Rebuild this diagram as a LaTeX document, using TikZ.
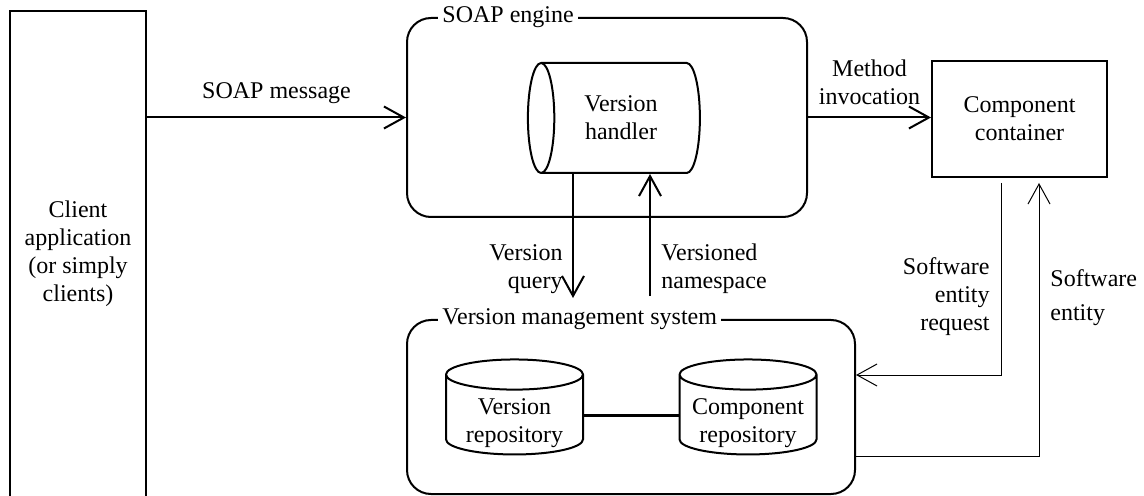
\documentclass[tikz,border=0pt]{standalone}
\usepackage{fontspec}
\setmainfont{Liberation Serif}
\usetikzlibrary{shapes.geometric,arrows.meta,positioning}

% text boxes of fixed size, so the cylinder ends come out right
\newcommand{\standtext}[1]{\makebox[68.5pt]{\raisebox{-7pt}[10pt][10pt]{\begin{tabular}{@{}c@{}}#1\end{tabular}}}}
\newcommand{\lietext}[1]{\parbox[c][55pt][c]{60pt}{\centering #1}}

\begin{document}
\begin{tikzpicture}[x=0.5pt,y=-0.5pt,
    font=\fontsize{12}{14}\selectfont,
    box/.style={draw, line width=1pt, align=center, inner sep=0pt},
    frame/.style={draw, line width=1pt, rounded corners=12pt, inner sep=0pt},
    frametitle/.style={fill=white, inner sep=2pt, anchor=west},
    store/.style={draw, line width=1pt, cylinder, inner sep=0pt},
    arr/.style={line width=1pt, -{Straight Barb[length=10pt,width=11pt]}},
    thinarr/.style={line width=0.5pt, -{Straight Barb[length=10pt,width=11pt]}},
    lbl/.style={inner sep=0pt}]

    \useasboundingbox (0,0) rectangle (1144,496);

    % client side
    \node[box, minimum width=68pt, minimum height=243pt] (client) at (78,254) {Client\\application\\(or simply\\clients)};

    % SOAP engine with the version handler
    \node[frame, minimum width=200pt, minimum height=99.5pt] (soap) at (607,117.5) {};
    \node[frametitle] (soaptitle) at ([xshift=16pt]soap.north west) {SOAP engine};
    \node[store, shape border rotate=180, shape aspect=0.24, minimum width=55pt, minimum height=86pt] (handler) at (621,118) {\lietext{Version\\handler}};

    % version management system
    \node[frame, minimum width=224pt, minimum height=87pt] (vms) at (631,407) {};
    \node[frametitle] (vmstitle) at ([xshift=16pt]vms.north west) {Version management system};
    \node[store, shape border rotate=90, shape aspect=0.22, minimum width=68.5pt, minimum height=47.5pt] (verrepo) at (514.5,415) {\standtext{Version\\repository}};
    \node[store, shape border rotate=90, shape aspect=0.22, minimum width=68.5pt, minimum height=47.5pt] (comprepo) at (748,415) {\standtext{Component\\repository}};
    \draw[line width=1.5pt] (verrepo) -- (comprepo); % repositories link

    % component container
    \node[box, minimum width=87.5pt, minimum height=58pt] (cont) at (1019.5,119) {Component\\container};

    % messages
    \draw[arr] (client.east |- soap.west) -- node[lbl, above=6.5pt] (soapmsg) {SOAP message} (soap.west);
    \draw[arr] (soap.east) -- node[lbl, above=6pt, align=center] (methodlbl) {Method\\invocation} (soap.east -| cont.west);

    % handler <-> version management
    \coordinate (qend) at ([xshift=-24pt,yshift=-62pt]handler.south);
    \draw[arr] (qend |- handler.south) -- (qend); % query
    \node[lbl, align=right, anchor=east] (querylbl) at (563,269) {Version\\query};
    \coordinate (nsstart) at ([xshift=14.5pt,yshift=-61pt]handler.south);
    \draw[arr] (nsstart) -- (nsstart |- handler.south); % namespace
    \node[lbl, align=left, anchor=west] (nslbl) at (661,269) {Versioned\\namespace};

    % container <-> version management
    \draw[thinarr] ([xshift=-9.25pt,yshift=-2.5pt]cont.south) |- ([yshift=16pt]vms.east);
    \node[lbl, align=right, anchor=east] (reqlbl) at (990,297) {Software\\entity\\request};
    \draw[thinarr] ([yshift=-24.5pt]vms.east) -| ([xshift=9.75pt,yshift=-2.5pt]cont.south);
    \node[lbl, align=left, anchor=west] (entlbl) at (1050,298) {Software\\[3pt]entity};
\end{tikzpicture}
\end{document}
